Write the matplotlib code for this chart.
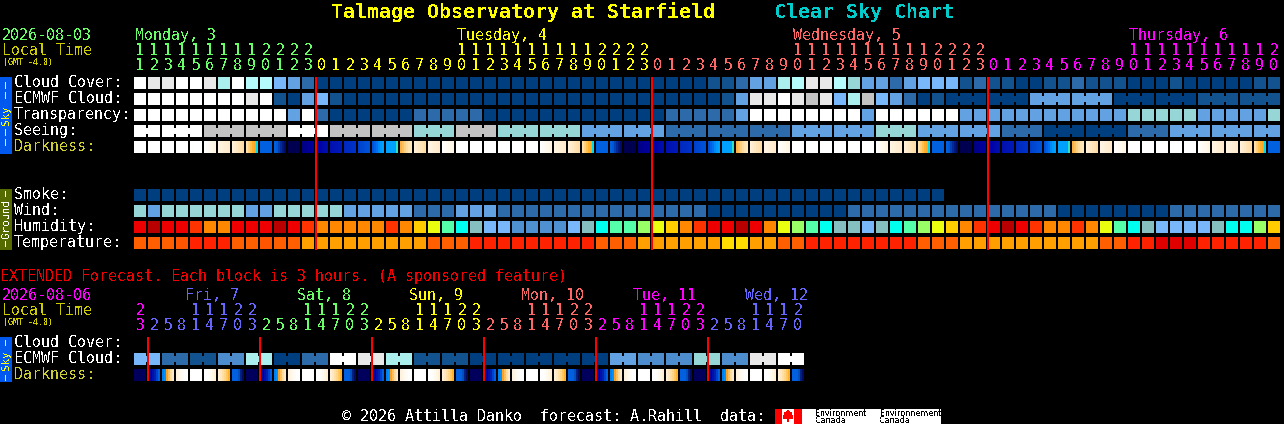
import matplotlib
matplotlib.use('Agg')
import matplotlib.pyplot as plt
from matplotlib.patches import Rectangle, Polygon

plt.rcParams['font.family'] = ['DejaVu Sans Mono']
plt.rcParams['text.antialiased'] = False

# hour of every block
hours = [11, 12, 13, 14, 15, 16, 17, 18, 19, 20, 21, 22, 23,
         0, 1, 2, 3, 4, 5, 6, 7, 8, 9, 10, 11, 12, 13, 14, 15, 16, 17, 18, 19, 20, 21, 22, 23,
         0, 1, 2, 3, 4, 5, 6, 7, 8, 9, 10, 11, 12, 13, 14, 15, 16, 17, 18, 19, 20, 21, 22, 23,
         0, 1, 2, 3, 4, 5, 6, 7, 8, 9, 10, 11, 12, 13, 14, 15, 16, 17, 18, 19, 20]
hours_ext = [23,
             2, 5, 8, 11, 14, 17, 20, 23,
             2, 5, 8, 11, 14, 17, 20, 23,
             2, 5, 8, 11, 14, 17, 20, 23,
             2, 5, 8, 11, 14, 17, 20, 23,
             2, 5, 8, 11, 14, 17, 20, 23,
             2, 5, 8, 11, 14, 17, 20]

# one letter per block or joined group of blocks, Mon / Tue / Wed / Thu
cloud_cover = 'wiiwwihwggfec' + 'aaaaaaaaaaaaaaaaaaaaaaaa' + 'aaaabbceehgiigteecefffbc' + 'bbaabbcbbbaaabaaaaabb'
ecmwf_cloud = 'wwwwwwwwiwbae' + 'fbaaaaaaaaaaaaaaaaaaaaaa' + 'aaaaabeiiwisifhsfecab' + 'aaeeaabb'
ecmwf_sizes = [1] * 58 + [3] * 8
transparency = 'wwwwwwwwwwwew' + 'caaaaaacccccaaaaaaaaaaaa' + 'acccccewwwwwwwwewwwwwwee' + 'eeeeeeeeeettttteeeeet'
seeing = 'wwsswsststtee' + 'ccceeteecaaceee'
seeing_sizes = [2] + [3] * 26 + [2]
smoke = 'aaaaaaaaaaaaa' + 'aaaaaaaaaaaaaaaaaaaaaaaa' + 'aaaaaaaaaaaaaaaaaaaaa'
wind = 'tetttttteettt' + 'tteeeeeccceeeccccccccccc' + 'ccccaaaaaaaaaacccccccccc' + 'cccccaaaaaaaacccccccc'
humidity = 'rRrroOOrrrRro' + 'OOOOOoOYymCTffddddfTCmml' + 'yYOorrRrOylmCTTfTCmlyYOo' + 'rRroOOoOymCTffffTCClY'
temperature = 'pppqxxxppqppA' + 'AAAAAAAApppxxxxxxxxxpppA' + 'AAAAAZZAAppxxxxxxxxpppAA' + 'AAAAAAAAppxxrrrxxxxxp'
darkness = ['W', 'W', 'W', 'W', 'W', 'P', 'C1', 'C2', 'S', 'B', 'Bn', 'N1', 'N2',
            'D1', 'D2', 'D3', 'D4', 'L1', 'L2', 'R', 'C2', 'C1', 'P', 'W', 'W', 'W', 'W', 'W', 'W', 'P', 'C1', 'C2', 'S', 'B', 'Bn', 'N1', 'N2',
            'D1', 'D2', 'D3', 'D4', 'L1', 'L2', 'R', 'C2', 'C1', 'P', 'W', 'W', 'W', 'W', 'W', 'W', 'P', 'C1', 'C2', 'S', 'B', 'Bn', 'N1', 'N2',
            'D1', 'D2', 'D3', 'D4', 'L1', 'L2', 'R', 'C2', 'C1', 'P', 'W', 'W', 'W', 'W', 'W', 'P', 'C1', 'C1', 'C2', 'S', 'B']

# extended forecast, block pairs
ecmwf_ext = 'fcbdhacwihbbaaaaaeddtdiw'
darkness_ext = ['X1', 'X2', 'X3', 'X4', 'W', 'X5', 'X6', 'X7'] * 6

sky_colors = {'a': '#003f7f', 'b': '#11528f', 'c': '#2d6aa9', 'd': '#4d8dcd', 'e': '#62a1e2',
              'f': '#78b7fa', 'g': '#b6fbfb', 'h': '#abeeee', 't': '#96d6d6', 'w': '#ffffff',
              'i': '#e8e8e8', 's': '#c3c3c3'}
hum_colors = {'R': '#b80000', 'r': '#ee0000', 'o': '#ff3300', 'O': '#ff8800', 'Y': '#ffcc00',
              'y': '#eaff10', 'l': '#99ff66', 'm': '#55ffaa', 'C': '#00ffee', 'T': '#85bfbf',
              'f': '#78b7fa', 'd': '#4f90d0'}
temp_colors = {'p': '#ff5f00', 'x': '#ff2200', 'q': '#ff5500', 'A': '#ffa000', 'Z': '#ffdd00', 'r': '#e00000'}
# darkness blocks change colour across the block, six samples each
dark_colors = {
    'W': ['#ffffff'] * 6,
    'P': ['#ffffff', '#fffdf9', '#fffbf3', '#fff9ee', '#fff7e9', '#fff5e4'],
    'C1': ['#fff4e2', '#fff2de', '#fff0da', '#ffeed6', '#ffecd1', '#ffeacc'],
    'C2': ['#fff0d8', '#ffecce', '#ffe8c4', '#ffe4ba', '#ffe0b0', '#ffdca6'],
    'S': ['#ffe0a8', '#ffd080', '#ffc050', '#ffb030', '#ffa820', '#00d8f0'],
    'B': ['#0060e0'] * 6,
    'Bn': ['#0060e0', '#0058d8', '#0040b0', '#002a98', '#001880', '#000a68'],
    'N1': ['#000050'] * 6,
    'N2': ['#000080', '#000088', '#000090', '#000094', '#000098', '#00009c'],
    'D1': ['#0000a0', '#0000a4', '#0004a8', '#0008a8', '#000cac', '#000cac'],
    'D2': ['#0010b0', '#0012b0', '#0014b4', '#0016b4', '#0018b8', '#0018b8'],
    'D3': ['#0028c0', '#002ac0', '#002cc4', '#002ec4', '#0030c8', '#0030c8'],
    'D4': ['#0040d0', '#0044d0', '#0048d4', '#004cd4', '#0050d8', '#0050d8'],
    'L1': ['#0050d8', '#0060e8', '#0070f0', '#0088f8', '#0098ff', '#00a0ff'],
    'L2': ['#00a0ff', '#00a0ff', '#00a0ff', '#00a0ff', '#00a0ff', '#30e0c0'],
    'R': ['#ffb040', '#ffc060', '#ffd080', '#ffdc9c', '#ffe4b0', '#ffe8c0'],
    'X1': ['#00005c'] * 6,
    'X2': ['#000090', '#0000a0', '#0010a8', '#0020b0', '#0040d0', '#0060e0'],
    'X3': ['#0080f0', '#0090ff', '#ffa020', '#ffc060', '#ffdc9c', '#ffeac8'],
    'X4': ['#fff2dc', '#fff6e6', '#fffaf0', '#fffcf6', '#ffffff', '#ffffff'],
    'X5': ['#ffffff', '#ffffff', '#fffdf8', '#fffaf0', '#fff6e6', '#fff0d8'],
    'X6': ['#ffeed2', '#ffe8c4', '#ffdfa8', '#ffd68c', '#ffc860', '#ffb030'],
    'X7': ['#0060e0', '#0060e0', '#0060e0', '#0050c0', '#002080', '#000a60'],
}

GREEN = '#66ff66'
YELLOW = '#ffff00'
RED = '#ff6666'
MAGENTA = '#ff00ff'
BLUE = '#6666ff'
OLIVE = '#cccc33'

X0 = 134
PITCH = 14
CELL = 12
SMALL = 10.8

fig = plt.figure(figsize=(12.84, 4.24), dpi=100, facecolor='black')
ax = fig.add_axes([0, 0, 1, 1])
ax.set_xlim(0, 1284)
ax.set_ylim(424, 0)
ax.axis('off')


def box(x, y, w, h, color, z=2):
    ax.add_patch(Rectangle((x, y), w, h, facecolor=color, edgecolor='none', linewidth=0,
                           antialiased=False, zorder=z))


def label(x, y, s, color='white', size=SMALL, **kw):
    ax.text(x, y, s, color=color, fontsize=size, va='baseline', ha=kw.pop('ha', 'left'), **kw)


def row(y, letters, palette, sizes=None):
    if sizes is None:
        sizes = [1] * len(letters)
    i = 0
    for c, n in zip(letters, sizes):
        for k in range(n):
            box(X0 + PITCH * (i + k), y, CELL, CELL, palette[c])
            # joined blocks, a short bridge over the gap
            if k < n - 1:
                box(X0 + PITCH * (i + k) + CELL, y + 3, PITCH - CELL, CELL - 6, palette[c])
        i += n


def dark_row(y, names):
    for i, name in enumerate(names):
        for j, c in enumerate(dark_colors[name]):
            box(X0 + PITCH * i + 2 * j, y, 2, CELL, c)


def hour_digits(y_tens, y_ones, hrs, colors):
    for i, (h, c) in enumerate(zip(hrs, colors)):
        x = X0 + PITCH * i + 6
        if h >= 10:
            label(x, y_tens, str(h // 10), color=c, ha='center')
        label(x, y_ones, str(h % 10), color=c, ha='center')


def side_bar(y, h, color, text_color, word, word_y, dashes):
    box(0, y, 12, h, color)
    ax.text(6, word_y, word, color=text_color, fontsize=7.8, rotation=90, ha='center', va='center', zorder=3)
    for top, length in dashes:
        box(5, top, 1, length, text_color, z=3)


# title
ax.text(331, 18, 'Talmage Observatory at Starfield', color=YELLOW, fontsize=14.4, weight='bold', va='baseline')
ax.text(774, 18, 'Clear Sky Chart', color='#00cccc', fontsize=14.4, weight='bold', va='baseline')

# header of the hourly part
label(2, 40, '2026-08-03', color=GREEN)
label(2, 55, 'Local Time', color='#cccc00')
label(3, 65, '(GMT -4.0)', color='#cccc00', size=6)
label(135, 40, 'Monday, 3', color=GREEN)
label(457, 40, 'Tuesday, 4', color=YELLOW)
label(793, 40, 'Wednesday, 5', color=RED)
label(1129, 40, 'Thursday, 6', color=MAGENTA)
day_colors = [GREEN] * 13 + [YELLOW] * 24 + [RED] * 24 + [MAGENTA] * 21
hour_digits(55, 70, hours, day_colors)

# side bars
side_bar(77, 77, '#0058ee', YELLOW, 'Sky', 115, [(82, 7), (92, 7), (129, 7), (139, 7)])
side_bar(189, 61, '#556b00', 'white', 'Ground', 219, [(191, 6), (241, 6)])
side_bar(337, 45, '#0058ee', YELLOW, 'Sky', 360, [(340, 6), (375, 6)])

# hourly rows
names = ['Cloud Cover:', 'ECMWF Cloud:', 'Transparency:', 'Seeing:']
for n, y in zip(names, [87, 103, 119, 135]):
    label(14, y, n)
label(14, 151, 'Darkness:', color=OLIVE)
for n, y in zip(['Smoke:', 'Wind:', 'Humidity:', 'Temperature:'], [199, 215, 231, 247]):
    label(14, y, n)

row(77, cloud_cover, sky_colors)
row(93, ecmwf_cloud, sky_colors, ecmwf_sizes)
row(109, transparency, sky_colors)
row(125, seeing, sky_colors, seeing_sizes)
dark_row(141, darkness)
row(189, smoke, sky_colors)
row(205, wind, sky_colors)
row(221, humidity, hum_colors)
row(237, temperature, temp_colors)

for x in [315, 651, 987]:
    box(x, 77, 2, 173, '#ff0000', z=4)

# extended forecast
label(0, 281, 'EXTENDED Forecast. Each block is 3 hours. (A sponsored feature)', color='#ee0000')
label(2, 300, '2026-08-06', color=MAGENTA)
label(2, 315, 'Local Time', color='#cccc00')
label(3, 325, '(GMT -4.0)', color='#cccc00', size=6)
ext_days = [(185, 'Fri, 7', BLUE), (297, 'Sat, 8', GREEN), (409, 'Sun, 9', YELLOW),
            (521, 'Mon, 10', RED), (633, 'Tue, 11', MAGENTA), (745, 'Wed, 12', BLUE)]
for x, s, c in ext_days:
    label(x, 300, s, color=c)
ext_colors = [MAGENTA] + [BLUE] * 8 + [GREEN] * 8 + [YELLOW] * 8 + [RED] * 8 + [MAGENTA] * 8 + [BLUE] * 7
hour_digits(315, 330, hours_ext, ext_colors)

label(14, 347, 'Cloud Cover:')
label(14, 363, 'ECMWF Cloud:')
label(14, 379, 'Darkness:', color=OLIVE)
row(353, ecmwf_ext, sky_colors, [2] * 24)
dark_row(369, darkness_ext)
for x in [147, 259, 371, 483, 595, 707]:
    box(x, 337, 2, 44, '#ff0000', z=4)

# footer
label(342, 421, '\u00a9 2026 Attilla Danko  forecast: A.Rahill  data:')
box(775, 409, 166, 15, 'white')
box(775, 409, 7, 15, '#ff0000')
box(794, 409, 8, 15, '#ff0000')
leaf = [(788, 410), (790, 413), (792, 412), (791, 416), (793, 415), (793, 418), (789, 419), (789, 422),
        (787, 422), (787, 419), (783, 418), (783, 415), (785, 416), (784, 412), (786, 413)]
ax.add_patch(Polygon(leaf, facecolor='#ff0000', edgecolor='none', antialiased=False, zorder=3))
for x, s in [(815, 'Environment'), (880, 'Environnement')]:
    ax.text(x, 416, s, color='black', fontsize=5.8, family='DejaVu Sans', va='baseline', zorder=3)
for x in [815, 880]:
    ax.text(x, 423, 'Canada', color='black', fontsize=5.8, family='DejaVu Sans', va='baseline', zorder=3)

fig.savefig('out.png', dpi=100, facecolor='black')
